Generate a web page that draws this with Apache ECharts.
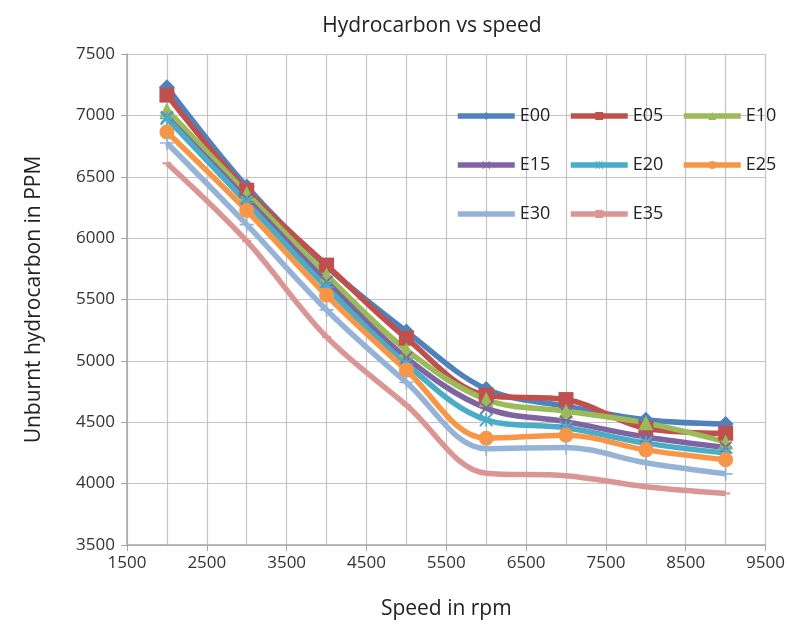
<!DOCTYPE html>
<html>
<head>
<meta charset="utf-8">
<script src="https://cdn.jsdelivr.net/npm/echarts@6/dist/echarts.min.js"></script>
<style>
  html, body { margin: 0; padding: 0; background: #fff; }
  #chart { width: 788px; height: 628px; }
</style>
</head>
<body>
<div id="chart"></div>
<script>
// speeds (rpm) shared by all blends
const speeds = [2000, 3000, 4000, 5000, 6000, 7000, 8000, 9000];

// unburnt HC in ppm
const E00 = [7230, 6420, 5770, 5240, 4770, 4630, 4520, 4485];
const E05 = [7165, 6390, 5780, 5185, 4720, 4685, 4450, 4410];
const E10 = [7045, 6365, 5700, 5090, 4685, 4590, 4495, 4340];
const E15 = [6985, 6320, 5645, 5025, 4615, 4505, 4380, 4295];
const E20 = [6975, 6290, 5600, 4975, 4520, 4455, 4330, 4250];
const E25 = [6865, 6225, 5535, 4925, 4370, 4395, 4275, 4195];
const E30 = [6775, 6110, 5415, 4825, 4285, 4295, 4170, 4080];
const E35 = [6610, 5975, 5195, 4640, 4085, 4065, 3975, 3920];

const names = ["E00", "E05", "E10", "E15", "E20", "E25", "E30", "E35"];
const values = [E00, E05, E10, E15, E20, E25, E30, E35];
const colors = ["#4F81BD", "#C0504D", "#9BBB59", "#8064A2", "#4BACC6", "#F79646", "#95B3D7", "#D99694"];

const xMark = "path://M1,0L5,4L9,0L10,1L6,5L10,9L9,10L5,6L1,10L0,9L4,5L0,1Z";
const plusMark = "path://M4.4,0H5.6V4.4H10V5.6H5.6V10H4.4V5.6H0V4.4H4.4Z";
const starMark = "path://M4.4,0H5.6V4.4H10V5.6H5.6V10H4.4V5.6H0V4.4H4.4Z M1,0L5,4L9,0L10,1L6,5L10,9L9,10L5,6L1,10L0,9L4,5L0,1Z";
const symbols = ["diamond", "rect", "triangle", xMark, starMark, "circle", plusMark, "rect"];
const symbolSizes = [16, 15, 15, 13, 14, 15, 14, [9, 2]];

const font = "'Open Sans', sans-serif";

const chart = echarts.init(document.getElementById("chart"), null, { renderer: "canvas" });

const series = names.map((n, i) => ({
  name: n,
  type: "line",
  smooth: 0.35,
  data: speeds.map((s, j) => [s, values[i][j]]),
  symbol: symbols[i],
  symbolSize: symbolSizes[i],
  showAllSymbol: true,
  lineStyle: { color: colors[i], width: 5.5 },
  itemStyle: { color: colors[i] },
  emphasis: { disabled: true }
}));

function legendCol(left, data) {
  return {
    orient: "vertical",
    left: left,
    top: 107,
    data: data,
    itemWidth: 57,
    itemHeight: 10,
    itemGap: 31,
    padding: 0,
    lineStyle: { width: 5.5 },
    textStyle: { fontFamily: font, fontSize: 18, color: "#222" }
  };
}

const option = {
  animation: false,
  title: {
    text: "Hydrocarbon vs speed",
    left: 427,
    textAlign: "center",
    top: 11,
    textStyle: { fontFamily: font, fontSize: 21, fontWeight: "normal", color: "#222" }
  },
  legend: [
    legendCol(455, ["E00", "E15", "E30"]),
    legendCol(568, ["E05", "E20", "E35"]),
    legendCol(681, ["E10", "E25"])
  ],
  grid: { left: 127, right: 22, top: 54, bottom: 83 },
  xAxis: {
    type: "value",
    min: 1500,
    max: 9500,
    interval: 1000,
    name: "Speed in rpm",
    nameLocation: "middle",
    nameGap: 54,
    nameTextStyle: { fontFamily: font, fontSize: 21, color: "#222" },
    axisLine: { lineStyle: { color: "#a6a6a6", width: 1.5 } },
    axisTick: { show: true, length: 6, lineStyle: { color: "#a6a6a6" } },
    axisLabel: { fontFamily: font, fontSize: 17, color: "#333", margin: 10, formatter: v => String(v) },
    splitLine: { show: true, lineStyle: { color: "#c4c4c4", width: 1.2 } },
    minorTick: { show: false, splitNumber: 2 },
    minorSplitLine: { show: true, lineStyle: { color: "#c4c4c4", width: 1.2 } }
  },
  yAxis: {
    type: "value",
    min: 3500,
    max: 7500,
    interval: 500,
    name: "Unburnt hydrocarbon in PPM",
    nameLocation: "middle",
    nameGap: 82,
    nameTextStyle: { fontFamily: font, fontSize: 21, color: "#222" },
    axisLine: { show: true, lineStyle: { color: "#a6a6a6", width: 1.5 } },
    axisTick: { show: true, length: 6, lineStyle: { color: "#a6a6a6" } },
    axisLabel: { fontFamily: font, fontSize: 17, color: "#333", margin: 12, formatter: v => String(v) },
    splitLine: { show: true, lineStyle: { color: "#c4c4c4", width: 1.2 } }
  },
  series: series
};

chart.setOption(option);
</script>
</body>
</html>
